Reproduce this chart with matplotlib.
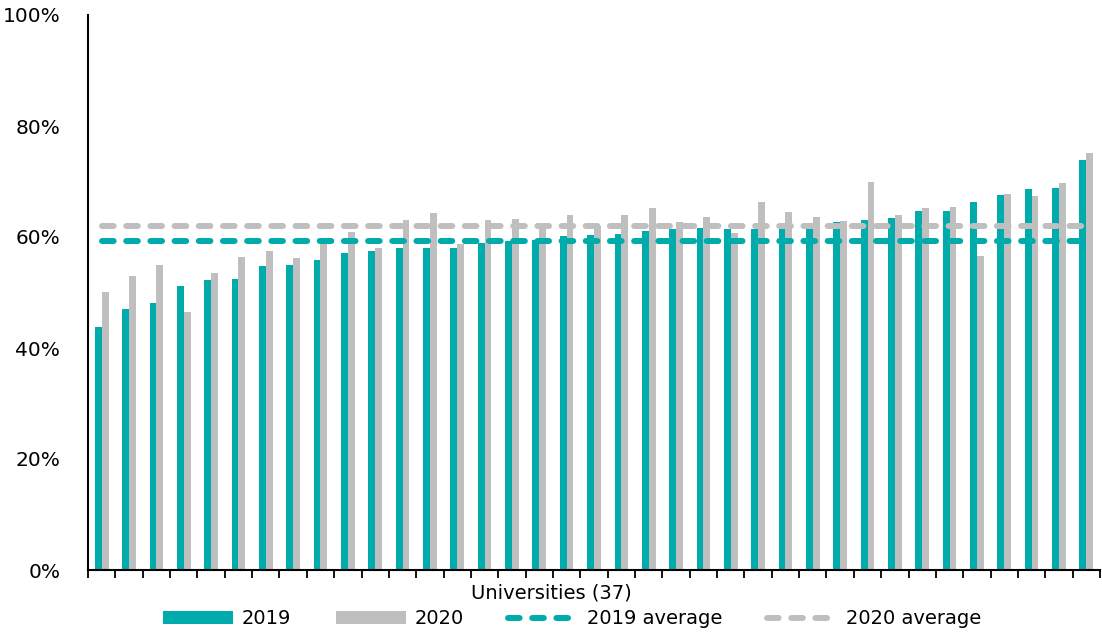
import numpy as np
import matplotlib
matplotlib.use('agg')
import matplotlib.pyplot as plt
from matplotlib.ticker import PercentFormatter, FixedLocator

# share of students per university (sorted by 2019 value)
vals_2019 = [43.7, 47.1, 48.1, 51.2, 52.3, 52.5, 54.7, 54.9, 55.8, 57.1,
             57.5, 58.0, 58.1, 58.0, 58.9, 59.3, 59.5, 60.1, 60.3, 60.5,
             61.1, 61.5, 61.7, 61.5, 61.4, 61.5, 61.9, 62.7, 63.1, 63.4,
             64.6, 64.7, 66.3, 67.6, 68.6, 68.8, 73.9]
vals_2020 = [50.1, 53.0, 55.0, 46.4, 53.5, 56.4, 57.5, 56.3, 58.9, 60.9,
             58.1, 63.0, 64.3, 58.8, 63.0, 63.3, 61.8, 63.9, 62.0, 63.9,
             65.3, 62.7, 63.6, 60.7, 66.3, 64.5, 63.6, 62.8, 69.9, 63.9,
             65.2, 65.4, 56.5, 67.7, 67.3, 69.7, 75.1]
avg_2019 = 59.3
avg_2020 = 62.0

teal = '#00ABAB'
grey = '#BFBFBF'

plt.rcParams['font.family'] = ['DejaVu Sans']
plt.rcParams['font.size'] = 14

fig = plt.figure(figsize=(11.02, 6.32), dpi=100)
ax = fig.add_axes([88 / 1102, 62 / 632, 1012 / 1102, 555 / 632])

n = len(vals_2019)
x = np.arange(n)
w = 0.25
b1 = ax.bar(x - w / 2, np.array(vals_2019) / 100, width=w, color=teal, label='2019')
b2 = ax.bar(x + w / 2, np.array(vals_2020) / 100, width=w, color=grey, label='2020')

l1, = ax.plot(x, [avg_2019 / 100] * n, color=teal, lw=4.3, ls=(0, (1.95, 2.1)),
              dash_capstyle='round', label='2019 average')
l2, = ax.plot(x, [avg_2020 / 100] * n, color=grey, lw=4.3, ls=(0, (1.95, 2.1)),
              dash_capstyle='round', label='2020 average')

ax.set_xlim(-0.5, n - 0.5)
ax.set_ylim(0, 1.0)
ax.yaxis.set_major_formatter(PercentFormatter(1.0, decimals=0))
ax.set_yticks(np.arange(0, 1.01, 0.2))
ax.tick_params(axis='y', length=0, pad=20, labelsize=14.5)

ax.xaxis.set_major_locator(FixedLocator(np.arange(-0.5, n, 1.0)))
ax.set_xticklabels([])
ax.tick_params(axis='x', length=6, width=1.3, direction='out')

for s in ['top', 'right']:
    ax.spines[s].set_visible(False)
ax.spines['left'].set_linewidth(1.5)
ax.spines['bottom'].set_linewidth(1.5)

ax.set_xlabel('Universities (37)')
ax.xaxis.set_label_coords(0.458, -0.041)
ax.xaxis.label.set_va('center')

fig.legend(handles=[b1, b2, l1, l2], loc='center', bbox_to_anchor=(0.519, 0.0206),
           ncol=4, frameon=False, handlelength=3.6, handleheight=0.6,
           handletextpad=0.45, columnspacing=2.3, borderpad=0)

fig.savefig('out.png', dpi=100)
